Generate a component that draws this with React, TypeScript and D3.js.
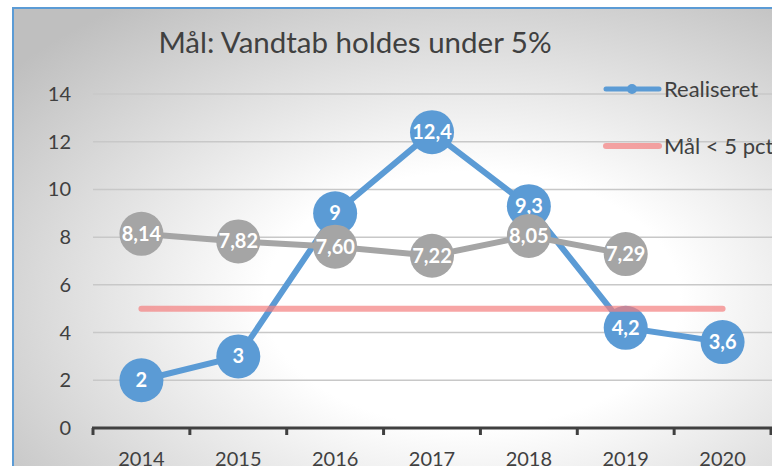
import React from "react";
import * as d3 from "d3";

const years = ["2014", "2015", "2016", "2017", "2018", "2019", "2020"];
const realiseret = [2, 3, 9, 12.4, 9.3, 4.2, 3.6];
const grey = [8.14, 7.82, 7.6, 7.22, 8.05, 7.29];
const target = [5, 5, 5, 5, 5, 5, 5];
const yTicks = [0, 2, 4, 6, 8, 10, 12, 14];
const title = "Mål: Vandtab holdes under 5%";
const legendLabels = ["Realiseret", "Mål < 5 pct"];

const W = 772;
const H = 466;
const FONT = "Lato, 'Open Sans', sans-serif";

export default function App() {
  const x = d3.scaleBand<string>().domain(years).range([93, 771]);
  const y = d3.scaleLinear().domain([0, 14]).range([428, 94]);
  const cx = (i: number) => (x(years[i]) as number) + x.bandwidth() / 2;

  const line = d3
    .line<number>()
    .x((_, i) => cx(i))
    .y((d) => y(d));

  const blueLabel = (v: number) => String(v).replace(".", ",");
  const greyLabel = (v: number) => v.toFixed(2).replace(".", ",");

  return (
    <svg
      width={W}
      height={H}
      style={{ position: "absolute", left: 0, top: 0 }}
      fontFamily={FONT}
    >
      <defs>
        <radialGradient id="bg" cx="58%" cy="60%" r="75%">
          <stop offset="0%" stopColor="#ffffff" />
          <stop offset="35%" stopColor="#ffffff" />
          <stop offset="100%" stopColor="#bfbfbf" />
        </radialGradient>
      </defs>
      <rect x={0} y={0} width={W} height={H} fill="#ffffff" />
      <rect x={13} y={8} width={W + 20} height={H + 20} fill="url(#bg)" stroke="#5b9bd5" strokeWidth={2} />

      <text x={355} y={53} textAnchor="middle" fontSize={29.5} fill="#404040">
        {title}
      </text>

      {/* gridlines */}
      {yTicks.slice(1).map((t) => (
        <line key={t} x1={93} x2={W} y1={y(t)} y2={y(t)} stroke="#c8c8c8" strokeWidth={1.5} />
      ))}
      {yTicks.map((t) => (
        <text key={t} x={71} y={y(t) + 7} textAnchor="end" fontSize={20} fill="#404040">
          {t}
        </text>
      ))}

      {/* x axis */}
      <line x1={92} x2={W} y1={428} y2={428} stroke="#404040" strokeWidth={3} />
      {years.map((yr) => (
        <line
          key={"t" + yr}
          x1={x(yr) as number}
          x2={x(yr) as number}
          y1={428}
          y2={435}
          stroke="#404040"
          strokeWidth={3}
        />
      ))}
      <line x1={771} x2={771} y1={428} y2={435} stroke="#404040" strokeWidth={3} />
      {years.map((yr, i) => (
        <text key={yr} x={cx(i)} y={466} textAnchor="middle" fontSize={20} fill="#404040">
          {yr}
        </text>
      ))}

      {/* lines */}
      <path d={line(realiseret) || ""} fill="none" stroke="#5b9bd5" strokeWidth={6} />
      <path d={line(grey) || ""} fill="none" stroke="#a5a5a5" strokeWidth={6} />

      {realiseret.map((v, i) => (
        <circle key={"b" + i} cx={cx(i)} cy={y(v)} r={22} fill="#5b9bd5" />
      ))}
      {realiseret.map((v, i) => (
        <text
          key={"bl" + i}
          x={cx(i)}
          y={y(v) + 7}
          textAnchor="middle"
          fontSize={20}
          fontWeight="bold"
          fill="#ffffff"
        >
          {blueLabel(v)}
        </text>
      ))}
      {grey.map((v, i) => (
        <circle key={"g" + i} cx={cx(i)} cy={y(v)} r={22} fill="#a5a5a5" />
      ))}
      {grey.map((v, i) => (
        <text
          key={"gl" + i}
          x={cx(i)}
          y={y(v) + 7}
          textAnchor="middle"
          fontSize={20}
          fontWeight="bold"
          fill="#ffffff"
        >
          {greyLabel(v)}
        </text>
      ))}

      {/* target line */}
      <path
        d={line(target) || ""}
        fill="none"
        stroke="#f37f7f"
        strokeOpacity={0.7}
        strokeWidth={6}
        strokeLinecap="round"
      />

      {/* legend */}
      <line x1={606} x2={659} y1={89} y2={89} stroke="#5b9bd5" strokeWidth={5} strokeLinecap="round" />
      <circle cx={632} cy={89} r={5} fill="#5b9bd5" />
      <text x={664} y={97} fontSize={22} fill="#404040">
        {legendLabels[0]}
      </text>
      <line x1={606} x2={659} y1={146} y2={146} stroke="#f37f7f" strokeOpacity={0.7} strokeWidth={6} strokeLinecap="round" />
      <text x={664} y={154} fontSize={22} fill="#404040">
        {legendLabels[1]}
      </text>
    </svg>
  );
}
